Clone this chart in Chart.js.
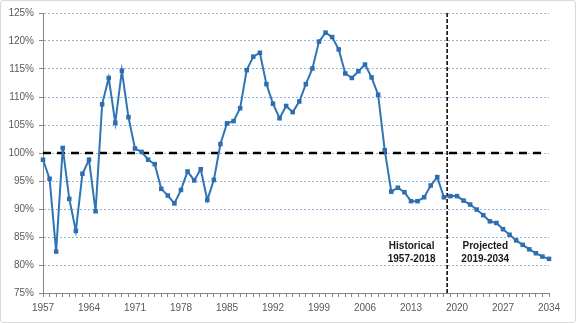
<!DOCTYPE html>
<html>
<head>
<meta charset="utf-8">
<script src="https://cdn.jsdelivr.net/npm/chart.js@4/dist/chart.umd.min.js"></script>
<style>
  body { margin: 0; background: #fff; }
  #wrap { width: 574px; height: 321px; border: 1px solid #d9d9d9; border-radius: 3px; }
</style>
</head>
<body>
<div id="wrap"><canvas id="myChart" width="574" height="321"></canvas></div>
<script>
const histYears = [1957, 1958, 1959, 1960, 1961, 1962, 1963, 1964, 1965, 1966,
  1967, 1968, 1969, 1970, 1971, 1972, 1973, 1974, 1975, 1976, 1977, 1978, 1979,
  1980, 1981, 1982, 1983, 1984, 1985, 1986, 1987, 1988, 1989, 1990, 1991, 1992,
  1993, 1994, 1995, 1996, 1997, 1998, 1999, 2000, 2001, 2002, 2003, 2004, 2005,
  2006, 2007, 2008, 2009, 2010, 2011, 2012, 2013, 2014, 2015, 2016, 2017, 2018];
const histValues = [98.8, 95.4, 82.4, 100.9, 91.8, 86.1, 96.3, 98.8, 89.6, 108.7,
  113.4, 105.4, 114.7, 106.4, 100.8, 100.2, 98.8, 98.0, 93.6, 92.4, 91.0, 93.4, 96.7,
  95.1, 97.1, 91.6, 95.2, 101.6, 105.3, 105.7, 108.0, 114.8, 117.2, 117.9, 112.3, 108.8,
  106.2, 108.4, 107.3, 109.2, 112.3, 115.1, 119.9, 121.5, 120.7, 118.5, 114.2, 113.4, 114.6,
  115.8, 113.5, 110.4, 100.5, 93.1, 93.8, 93.0, 91.4, 91.4, 92.1, 94.2, 95.7, 92.1];

const projYears = [2019, 2020, 2021, 2022, 2023, 2024, 2025, 2026, 2027, 2028,
  2029, 2030, 2031, 2032, 2033, 2034];
const projValues = [92.3, 92.3, 91.5, 90.8, 89.9, 88.9, 87.8, 87.5, 86.4, 85.4,
  84.4, 83.6, 82.8, 82.1, 81.5, 81.1];

const xTickLabels = [1957, 1964, 1971, 1978, 1985, 1992, 1999, 2006, 2013, 2020, 2027, 2034];
const parityLevel = [100, 100];
const parityYears = [1957, 2033.5];
const splitYear = 2018.5;
const splitRange = [75, 125];
const notes = [['Historical', '1957-2018'], ['Projected', '2019-2034']];

const series = histYears.map((y, i) => ({ x: y, y: histValues[i] }))
  .concat(projYears.map((y, i) => ({ x: y, y: projValues[i] })));

const axisGray = '#868686';
const labelGray = '#595959';

// period captions under the curve, one on each side of the split
const notesPlugin = {
  id: 'notes',
  afterDatasetsDraw(chart) {
    const { ctx, scales: { x, y } } = chart;
    const spots = [2013.1, 2024.3];
    ctx.save();
    ctx.font = 'bold 10px "Liberation Sans"';
    ctx.fillStyle = '#1a1a1a';
    ctx.textAlign = 'center';
    ctx.textBaseline = 'middle';
    notes.forEach((lines, i) => {
      const px = x.getPixelForValue(spots[i]);
      ctx.fillText(lines[0], px, y.getPixelForValue(83.3));
      ctx.fillText(lines[1], px, y.getPixelForValue(81.0));
    });
    ctx.restore();
  }
};

const ctx = document.getElementById('myChart').getContext('2d');
new Chart(ctx, {
  type: 'line',
  data: {
    datasets: [
      {
        data: series,
        borderColor: '#2E75B6',
        borderWidth: 2,
        pointStyle: 'rect',
        pointRadius: 3.2,
        pointBackgroundColor: '#2E6DB0',
        pointBorderColor: '#2E6DB0',
        pointBorderWidth: 0,
        tension: 0,
        clip: false,
        order: 0
      },
      {
        data: parityYears.map((y, i) => ({ x: y, y: parityLevel[i] })),
        borderColor: '#000',
        borderWidth: 2.5,
        borderDash: [8, 6],
        pointRadius: 0,
        order: 1
      },
      {
        data: splitRange.map(v => ({ x: splitYear, y: v })),
        borderColor: '#000',
        borderWidth: 1.5,
        borderDash: [4, 2],
        pointRadius: 0,
        order: 1
      }
    ]
  },
  options: {
    responsive: false,
    animation: false,
    devicePixelRatio: 1,
    layout: { padding: { top: 12, right: 26, left: 0, bottom: 0 } },
    plugins: { legend: { display: false }, tooltip: { enabled: false } },
    scales: {
      x: {
        type: 'linear',
        min: 1957,
        max: 2034,
        afterFit: s => { s.height = 29; },
        ticks: {
          stepSize: 1,
          autoSkip: false,
          maxRotation: 0,
          padding: 5,
          color: labelGray,
          font: { family: 'Liberation Sans', size: 10 },
          callback: v => xTickLabels.includes(v) ? String(v) : ''
        },
        grid: { drawOnChartArea: false, drawTicks: true, tickLength: 4, tickColor: axisGray },
        border: { color: axisGray, width: 1 }
      },
      y: {
        min: 75,
        max: 125,
        afterFit: s => { s.width = 42; },
        ticks: {
          stepSize: 5,
          padding: 5,
          color: labelGray,
          font: { family: 'Liberation Sans', size: 10 },
          callback: v => v + '%'
        },
        grid: {
          color: c => c.tick && c.tick.value === 75 ? 'rgba(0,0,0,0)' : '#8FB4DE',
          lineWidth: 1,
          drawTicks: true,
          tickLength: 4,
          tickColor: axisGray,
          tickBorderDash: []
        },
        border: { color: axisGray, width: 1, dash: [2, 2] }
      }
    }
  },
  plugins: [notesPlugin]
});
</script>
</body>
</html>
